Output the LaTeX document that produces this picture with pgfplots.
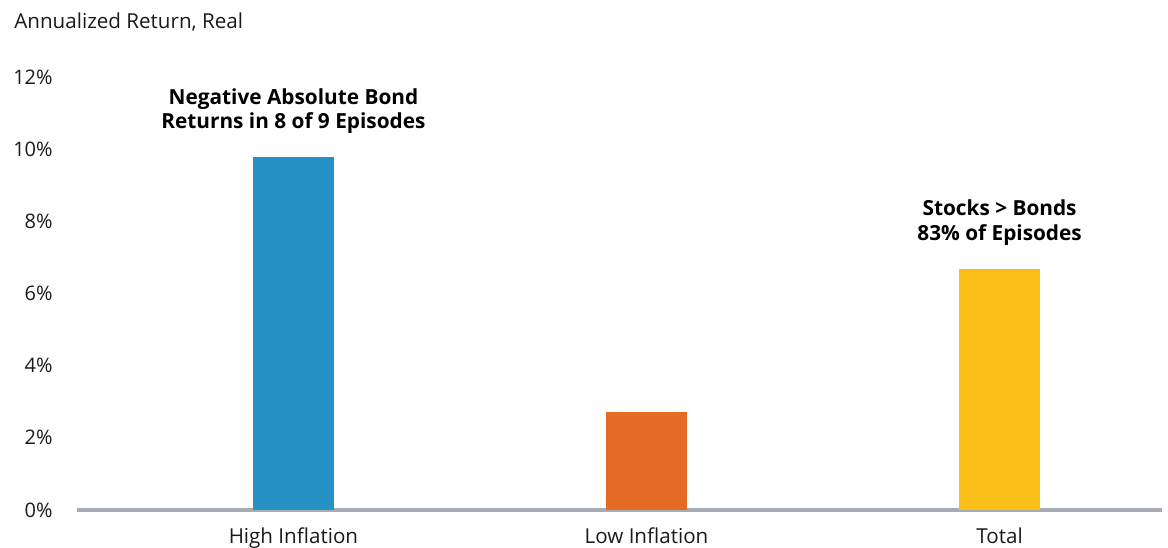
\documentclass[border=0pt]{standalone}
\usepackage{pgfplots}
\pgfplotsset{compat=1.18}
\usepackage{fontspec}
\setmainfont{Open Sans}
\definecolor{barblue}{HTML}{2691C4}
\definecolor{barorange}{HTML}{E56A25}
\definecolor{baryellow}{HTML}{F9BF18}
\definecolor{axisgray}{HTML}{A7ABB3}
\definecolor{textgray}{HTML}{1A1A1A}
\begin{document}
\begin{tikzpicture}
\useasboundingbox (0,0) rectangle (584pt,273.5pt);
\node[anchor=west, inner sep=0pt, text=textgray, font=\fontsize{10.3}{12}\selectfont] at (7pt,262.5pt) {Annualized Return, Real};
\begin{axis}[
  at={(38.5pt,18.5pt)}, anchor=south west,
  scale only axis, width=542.5pt, height=216.5pt,
  xmin=-0.613, xmax=2.460, ymin=0, ymax=12,
  axis lines*=left,
  y axis line style={draw=none},
  x axis line style={line width=2pt, draw=axisgray},
  tick style={draw=none},
  xtick={0,1,2},
  xticklabels={High Inflation, Low Inflation, Total},
  ytick={0,2,...,12},
  yticklabel={\pgfmathprintnumber[assume math mode=true]{\tick}\%},
  ticklabel style={font=\fontsize{10}{12}\selectfont, text=textgray},
  xticklabel style={inner sep=0pt, anchor=north, yshift=-4.5pt, font=\fontsize{10.3}{12}\selectfont},
  yticklabel style={inner sep=0pt, anchor=east, xshift=-12pt},
  ybar, bar width=40.5pt,
  clip=false,
]
\addplot[fill=barblue, draw=none, bar shift=0pt] coordinates {(0,9.78)};
\addplot[fill=barorange, draw=none, bar shift=0pt] coordinates {(1,2.72)};
\addplot[fill=baryellow, draw=none, bar shift=0pt] coordinates {(2,6.69)};
\node[anchor=south, align=center, inner sep=0pt, yshift=11.5pt, font=\bfseries\fontsize{10.4}{12.2}\selectfont] at (axis cs:0,9.78) {Negative Absolute Bond\\Returns in 8 of 9 Episodes};
\node[anchor=south, align=center, inner sep=0pt, yshift=11.5pt, font=\bfseries\fontsize{10.4}{12.2}\selectfont] at (axis cs:2,6.69) {Stocks > Bonds\\83\% of Episodes};
\end{axis}
\end{tikzpicture}
\end{document}
